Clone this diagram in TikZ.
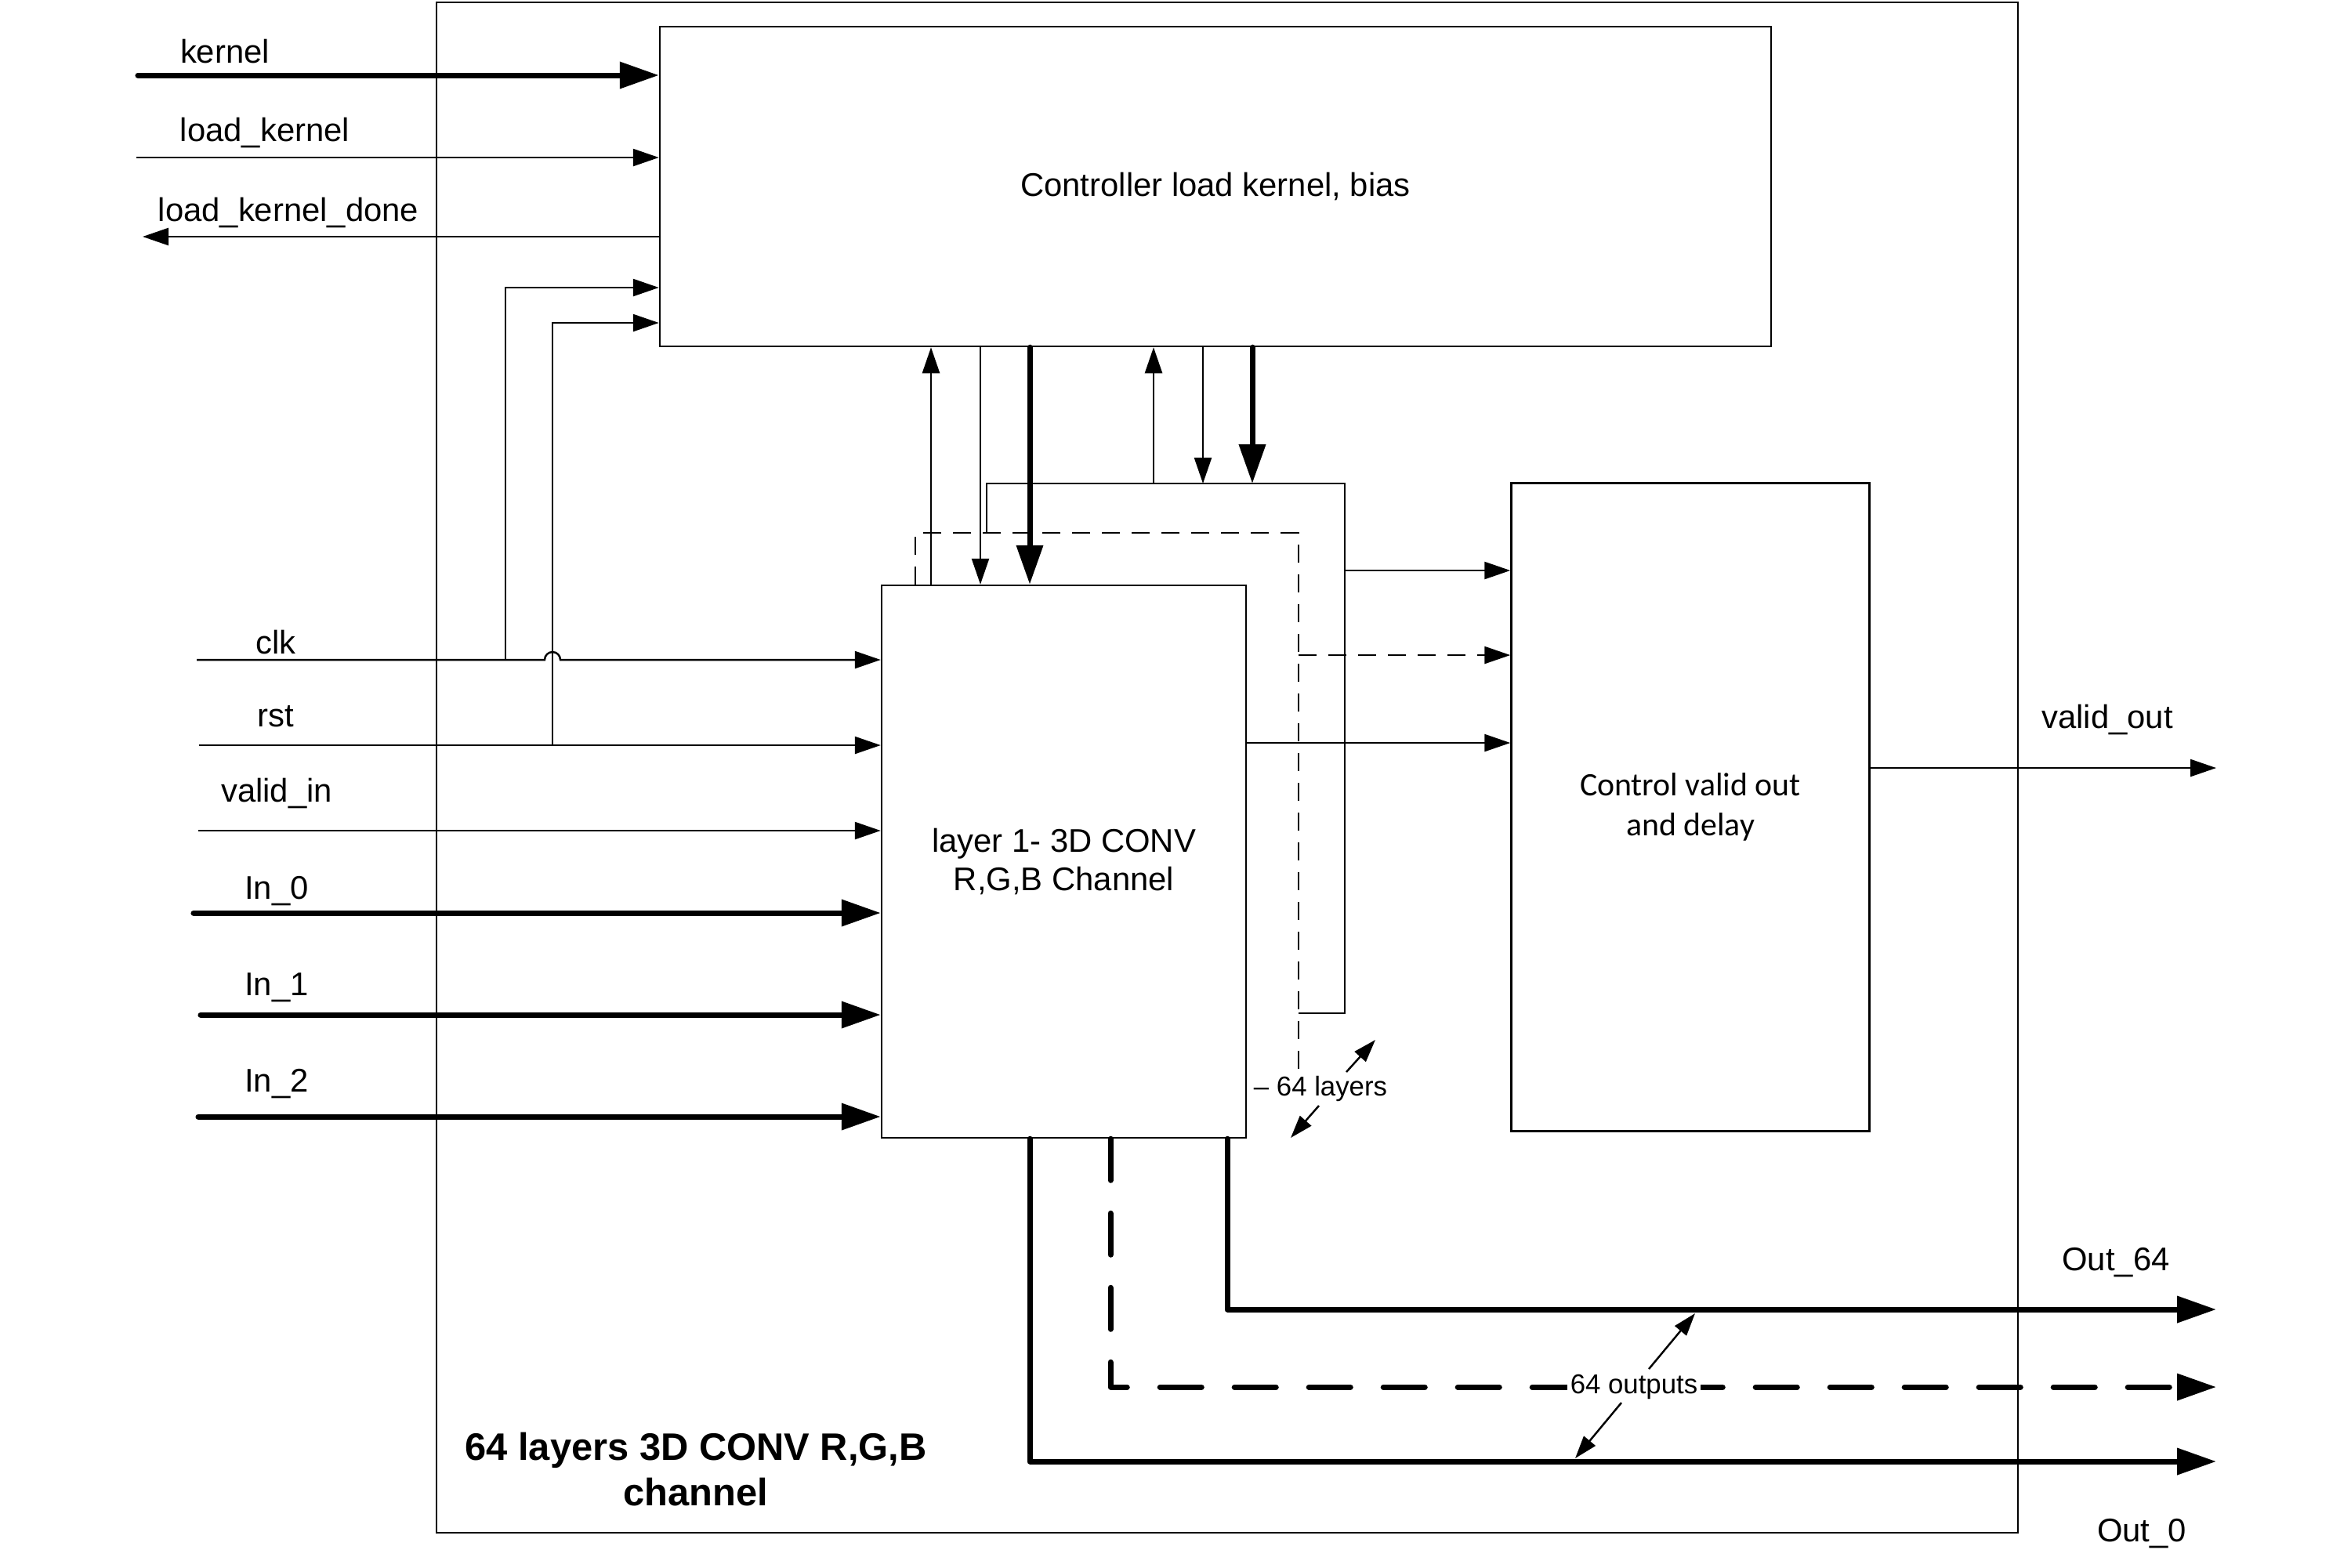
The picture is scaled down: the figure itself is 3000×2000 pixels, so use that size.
\documentclass[tikz,border=0pt]{standalone}
\usepackage{fontspec}
\setmainfont{Liberation Sans}
\newfontfamily\carlitofont{Carlito}
\usetikzlibrary{arrows.meta}
\begin{document}
\begin{tikzpicture}[x=0.1mm,y=-0.1mm,
  wire/.style={line width=0.7pt},
  bus/.style={line width=2pt,line cap=round,line join=round},
  tip/.style={-{Triangle[length=3.3mm,width=2.2mm]}},
  bustip/.style={-{Triangle[length=5mm,width=3.3mm]}},
  smalltip/.style={-{Triangle[length=2.9mm,width=1.9mm]}},
  block/.style={draw,line width=0.7pt,inner sep=0pt,align=center,
    font=\fontsize{11.9pt}{14.2pt}\selectfont},
  lbl/.style={anchor=base,inner sep=0pt,font=\fontsize{11.9pt}{14pt}\selectfont},
  note/.style={anchor=base,inner sep=0pt,font=\fontsize{9.9pt}{12pt}\selectfont},
  thindash/.style={dash pattern=on 2.3mm off 1.5mm},
  busdash/.style={dash pattern=on 5.3mm off 4.2mm},
]
\useasboundingbox (0,0) rectangle (3000,2000);

% enclosing module and its title
\node[draw,line width=0.7pt,minimum width=201.8mm,minimum height=195.3mm,inner sep=0pt] (top) at (1566,979.5) {};
\node[align=center,inner sep=0pt,font=\fontsize{13.9pt}{16.5pt}\selectfont\bfseries] (title) at (888,1875) {64 layers 3D CONV R,G,B\\channel};

% functional blocks
\node[block,minimum width=141.8mm,minimum height=40.8mm] (ctrl) at (1551,238) {Controller load kernel, bias};
\node[block,minimum width=46.5mm,minimum height=70.5mm] (layer) at (1357.5,1099.5) {layer 1- 3D CONV\\R,G,B Channel};
\node[block,minimum width=45.7mm,minimum height=82.7mm,font=\carlitofont\fontsize{11.9pt}{14.5pt}\selectfont] (vctl) at (2157,1030) {Control valid out\\and delay};

% stacked copies of the layer (last one solid, intermediate ones dashed)
\coordinate (bkA) at (1259,680);
\coordinate (bkB) at (1259,617);
\coordinate (bkC) at (1716,617);
\coordinate (bkD) at (1716,1293);
\coordinate (bkE) at (1657,1293);
\draw[wire] (bkA) -- (bkB) -- (bkC) -- (bkD) -- (bkE);
\coordinate (dsA) at (1168,680);
\coordinate (dsB) at (1657,680);
\coordinate (dsC) at (1657,1367);
\draw[wire,thindash] (dsA |- layer.north) -- (dsA) -- (dsB) -- (dsC);

% controller <-> layers
\draw[wire,tip] (1188,0 |- layer.north) -- (1188,0 |- ctrl.south);
\draw[wire,tip] (1251,0 |- ctrl.south) -- (1251,0 |- layer.north);
\draw[bus,bustip] (1314,0 |- ctrl.south) -- (1314,0 |- layer.north);
\draw[wire,tip] (1472,0 |- bkB) -- (1472,0 |- ctrl.south);
\draw[wire,tip] (1535,0 |- ctrl.south) -- (1535,0 |- bkB);
\draw[bus,bustip] (1598,0 |- ctrl.south) -- (1598,0 |- bkB);

% layers -> valid control
\draw[wire,tip] (bkC |- 0,728) -- (vctl.west |- 0,728);
\draw[wire,thindash,tip] (dsB |- 0,836) -- (vctl.west |- 0,836);
\draw[wire,tip] (layer.east |- 0,948) -- (vctl.west |- 0,948);
\coordinate (validOut) at (2828,980);
\draw[wire,tip] (vctl.east |- validOut) -- (validOut);

% module inputs
\coordinate (kernelIn) at (176,96);
\coordinate (loadIn) at (174,201);
\coordinate (doneOut) at (182,302);
\coordinate (clkIn) at (251,842);
\coordinate (rstIn) at (254,951);
\coordinate (validIn) at (253,1060);
\coordinate (inA) at (247,1165);
\coordinate (inB) at (256,1295);
\coordinate (inC) at (253,1425);
\coordinate (clkTap) at (645,842);
\coordinate (rstTap) at (705,951);

\draw[bus,bustip] (kernelIn) -- (kernelIn -| ctrl.west);
\draw[wire,tip] (loadIn) -- (loadIn -| ctrl.west);
\draw[wire,tip] (doneOut -| ctrl.west) -- (doneOut);
\draw[wire,tip] (clkTap) -- (645,367) -- (ctrl.west |- 0,367);
\draw[wire,tip] (rstTap) -- (705,412) -- (ctrl.west |- 0,412);
\draw[wire,tip] (clkIn) -- (695,842) arc[start angle=180,end angle=360,radius=10] -- (clkIn -| layer.west);
\draw[wire,tip] (rstIn) -- (rstIn -| layer.west);
\draw[wire,tip] (validIn) -- (validIn -| layer.west);
\draw[bus,bustip] (inA) -- (inA -| layer.west);
\draw[bus,bustip] (inB) -- (inB -| layer.west);
\draw[bus,bustip] (inC) -- (inC -| layer.west);

% module outputs
\coordinate (outZero) at (2828,1865);
\coordinate (outMid) at (2828,1770);
\coordinate (outLast) at (2828,1671);
\draw[bus,bustip] (1314,0 |- layer.south) -- (1314,0 |- outZero) -- (outZero);
\draw[bus,busdash,bustip] (1417,0 |- layer.south) -- (1417,0 |- outMid) -- (outMid);
\draw[bus,bustip] (1566,0 |- layer.south) -- (1566,0 |- outLast) -- (outLast);

% signal names
\node[lbl] (lkernel) at (287,80) {kernel};
\node[lbl] (lload) at (338,180) {load\_kernel};
\node[lbl] (ldone) at (368,282) {load\_kernel\_done};
\node[lbl] (lclk) at (352,834) {clk};
\node[lbl] (lrst) at (352,927) {rst};
\node[lbl] (lvalid) at (353,1023) {valid\_in};
\node[lbl] (linA) at (353,1147) {In\_0};
\node[lbl] (linB) at (353,1270) {In\_1};
\node[lbl] (linC) at (353,1393) {In\_2};
\node[lbl] (lvout) at (2689,929) {valid\_out};
\node[lbl] (lout64) at (2700,1621) {Out\_64};
\node[lbl] (lout0) at (2733,1967) {Out\_0};

% multiplicity notes
\node[note] (nlayers) at (1685,1398) {\textendash{} 64 layers};
\coordinate (nlA) at (1718,1368);
\coordinate (nlB) at (1755,1327);
\coordinate (nlC) at (1683,1411);
\coordinate (nlD) at (1647,1452);
\draw[wire,smalltip] (nlA) -- (nlB);
\draw[wire,smalltip] (nlC) -- (nlD);

\node[note,fill=white,inner sep=1pt] (nouts) at (2085,1778) {64 outputs};
\coordinate (noA) at (2104,1747);
\coordinate (noB) at (2163,1676);
\coordinate (noC) at (2069,1790);
\coordinate (noD) at (2010,1861);
\draw[wire,smalltip] (noA) -- (noB);
\draw[wire,smalltip] (noC) -- (noD);
\end{tikzpicture}
\end{document}
